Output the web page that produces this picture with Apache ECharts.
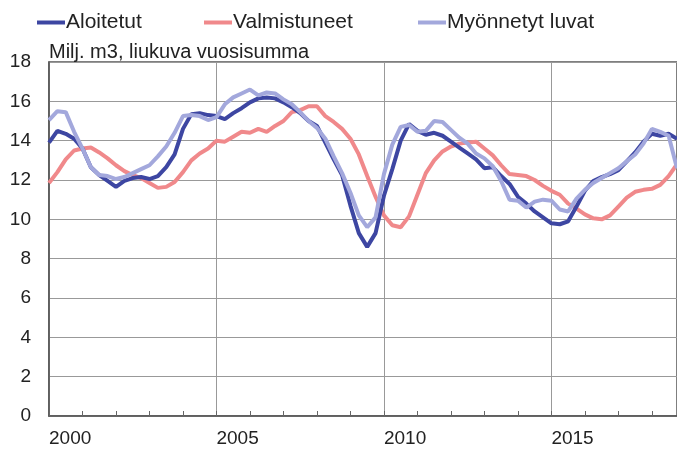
<!DOCTYPE html>
<html>
<head>
<meta charset="utf-8">
<script src="https://cdn.jsdelivr.net/npm/echarts@6/dist/echarts.min.js"></script>
<style>
  html, body { margin: 0; padding: 0; background: #fff; }
  #main { width: 677px; height: 450px; }
</style>
</head>
<body>
<div id="main"></div>
<script>
// quarterly points, starting 2000.0
var startYear = 2000;
var step = 0.25;

var aloitetut = [
  13.9, 14.5, 14.35, 14.1, 13.6, 12.65, 12.25, 11.95, 11.65, 11.95,
  12.1, 12.15, 12.05, 12.2, 12.65, 13.3, 14.6, 15.35, 15.4, 15.3,
  15.25, 15.1, 15.4, 15.65, 15.95, 16.15, 16.2, 16.15, 15.95, 15.7,
  15.4, 15.0, 14.75, 13.9, 13.05, 12.25, 10.7, 9.3, 8.6, 9.3,
  11.2, 12.55, 14.0, 14.85, 14.5, 14.3, 14.4, 14.25, 13.95, 13.65,
  13.35, 13.05, 12.6, 12.65, 12.2, 11.8, 11.15, 10.8, 10.4, 10.1,
  9.8, 9.75, 9.9, 10.65, 11.45, 11.95, 12.15, 12.3, 12.5, 12.95,
  13.4, 13.95, 14.35, 14.25, 14.35, 14.1
];

var valmistuneet = [
  11.85, 12.4, 13.05, 13.5, 13.6, 13.65, 13.4, 13.1, 12.75, 12.45,
  12.25, 12.1, 11.85, 11.6, 11.65, 11.9, 12.4, 13.0, 13.35, 13.6,
  14.0, 13.95, 14.2, 14.45, 14.4, 14.6, 14.45, 14.75, 15.0, 15.45,
  15.55, 15.75, 15.75, 15.25, 14.95, 14.6, 14.1, 13.3, 12.2, 11.15,
  10.2, 9.7, 9.6, 10.15, 11.25, 12.35, 13.0, 13.45, 13.7, 13.85,
  13.9, 13.95, 13.6, 13.25, 12.75, 12.3, 12.25, 12.2, 12.0, 11.7,
  11.45, 11.25, 10.8, 10.55, 10.25, 10.05, 10.0, 10.2, 10.65, 11.1,
  11.4, 11.5, 11.55, 11.75, 12.2, 12.8
];

var myonnetyt = [
  15.05, 15.5, 15.45, 14.45, 13.6, 12.65, 12.25, 12.2, 12.05, 12.15,
  12.35, 12.55, 12.75, 13.2, 13.7, 14.4, 15.25, 15.3, 15.25, 15.05,
  15.2, 15.85, 16.2, 16.4, 16.6, 16.3, 16.45, 16.4, 16.1, 15.85,
  15.45, 15.0, 14.65, 14.1, 13.2, 12.35, 11.35, 10.2, 9.6, 10.1,
  12.3, 13.8, 14.7, 14.8, 14.45, 14.5, 15.0, 14.95, 14.55, 14.15,
  13.85, 13.35, 13.1, 12.7, 11.95, 11.0, 10.95, 10.6, 10.9, 11.0,
  10.95, 10.5, 10.4, 11.05, 11.5, 11.85, 12.1, 12.35, 12.6, 12.95,
  13.3, 13.85, 14.6, 14.45, 14.25, 12.6
];

var seriesNames = ['Aloitetut', 'Valmistuneet', 'Myönnetyt luvat'];
var colors = ['#3d46a2', '#f0898b', '#a3a8dc'];
var yTicks = [0, 18, 2];
var unitText = 'Milj. m3, liukuva vuosisumma';

function toPoints(arr) {
  return arr.map(function (v, i) { return [startYear + i * step, v]; });
}

var font = 'Liberation Sans, Arial, sans-serif';
var chart = echarts.init(document.getElementById('main'));

// one legend per item so each sits where the original has it
var legendLeft = [37, 204, 418];
var legends = seriesNames.map(function (name, i) {
  return {
    data: [name],
    left: legendLeft[i], top: 12, padding: 0,
    itemWidth: 28, itemHeight: 4,
    icon: 'rect',
    textStyle: { fontSize: 21, color: '#222', padding: [0, 0, 0, -4] }
  };
});

chart.setOption({
  animation: false,
  color: colors,
  textStyle: { fontFamily: font },
  grid: {
    left: 49, right: -2, top: 62, bottom: 34,
    show: true, borderColor: '#555', borderWidth: 1.5,
    containLabel: false
  },
  title: {
    text: unitText,
    left: 49, top: 42, padding: 0,
    textStyle: { fontSize: 20, fontWeight: 'normal', color: '#222', fontFamily: font }
  },
  legend: legends,
  xAxis: [{
    type: 'value',
    min: 2000, max: 2018.75, interval: 1,
    axisLine: { lineStyle: { color: '#555', width: 1.5 } },
    axisTick: { inside: true, length: 5, lineStyle: { color: '#666' } },
    axisLabel: {
      fontSize: 19, color: '#222', align: 'left', margin: 13,
      showMaxLabel: false,
      formatter: function (v) { return v % 5 === 0 ? String(v) : ''; }
    },
    splitLine: { show: false }
  }, {
    type: 'value',
    position: 'bottom',
    min: 2000, max: 2018.75, interval: 5,
    axisLine: { show: false },
    axisTick: { show: false },
    axisLabel: { show: false },
    splitLine: { show: true, lineStyle: { color: '#999', width: 1 } }
  }],
  yAxis: {
    type: 'value',
    min: yTicks[0], max: yTicks[1], interval: yTicks[2],
    axisLine: { show: true, lineStyle: { color: '#555', width: 1.5 } },
    axisTick: { show: false },
    axisLabel: { fontSize: 19, color: '#222', margin: 18 },
    splitLine: { lineStyle: { color: '#999', width: 1 } }
  },
  series: [
    { name: seriesNames[0], type: 'line', data: toPoints(aloitetut), showSymbol: false, lineStyle: { width: 4 }, z: 4 },
    { name: seriesNames[1], type: 'line', data: toPoints(valmistuneet), showSymbol: false, lineStyle: { width: 4 }, z: 3 },
    { name: seriesNames[2], type: 'line', data: toPoints(myonnetyt), showSymbol: false, lineStyle: { width: 4 }, z: 5 }
  ]
});
</script>
</body>
</html>
